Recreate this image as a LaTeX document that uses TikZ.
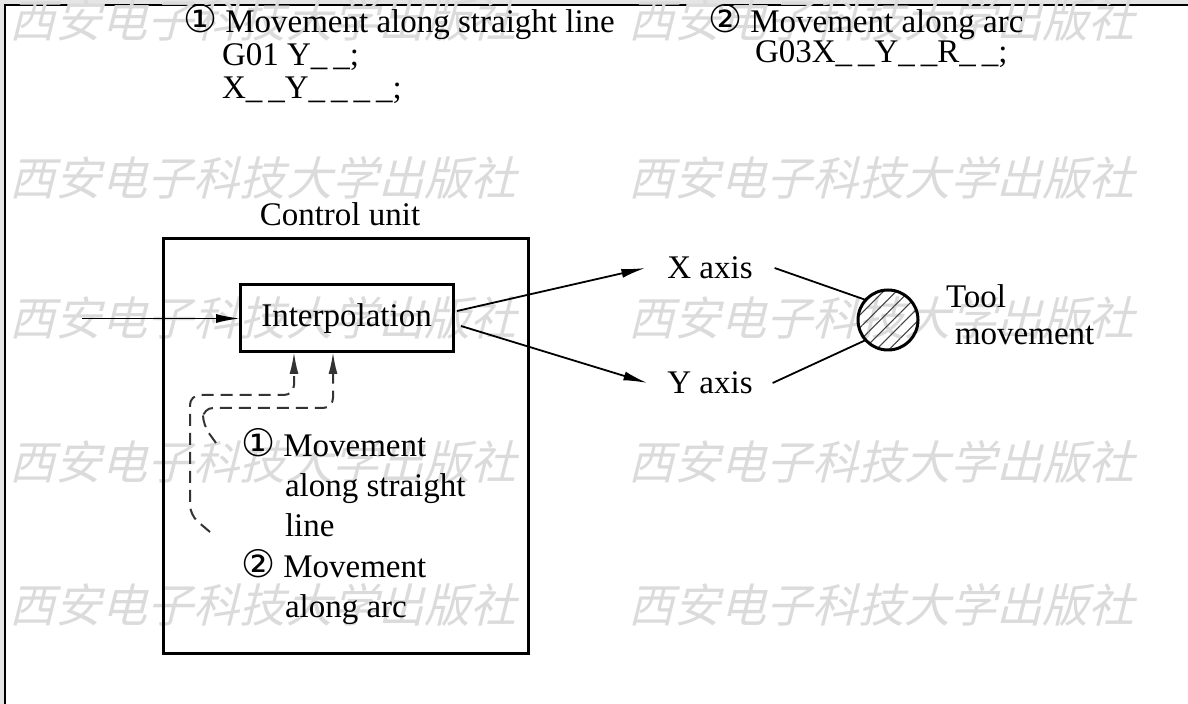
\documentclass[tikz,border=0pt]{standalone}
\usepackage{fontspec}
\setmainfont{Liberation Serif}
\newfontfamily\symfont{DejaVu Sans}
\newfontfamily\wmfont[FakeSlant=0.25]{Noto Sans CJK SC}
\usetikzlibrary{arrows.meta,patterns.meta}
\newcommand{\cA}{{\symfont\fontsize{19}{19}\selectfont ①}}
\newcommand{\cB}{{\symfont\fontsize{19}{19}\selectfont ②}}
\newcommand{\blk}{\_\kern3pt\_}
\begin{document}
\begin{tikzpicture}[x=0.5pt,y=-0.5pt,
  every node/.style={inner sep=0pt, outer sep=0pt},
  txt/.style={font=\fontsize{16.5}{20}\selectfont},
  wm/.style={font=\wmfont\fontsize{23}{23}\selectfont, text=black!14, anchor=west},
  boxline/.style={draw, line width=1.5pt},
  arr/.style={line width=0.9pt, -{Latex[length=12pt,width=4.5pt]}},
  lin/.style={line width=0.9pt},
  dline/.style={line width=1pt, draw=black!80, dash pattern=on 6pt off 3.5pt, rounded corners=5pt, -{Latex[length=11pt,width=4.5pt]}}
]
\useasboundingbox (0,0) rectangle (1188,704);
\fill[white] (0,0) rectangle (1188,704);
\fill[black!10] (0,0) rectangle (1188,4);
\fill[black!10] (0,0) rectangle (4,704);
\draw[line width=1.1pt] (5,704) -- (5,5) -- (1188,5);

% watermarks
\foreach \yy in {20,178,318,462,605} {
  \node[wm] (wmL\yy) at (10,\yy) {西安电子科技大学出版社};
  \node[wm] (wmR\yy) at (628,\yy) {西安电子科技大学出版社};
}

% top texts
\node[txt,anchor=base west] (t1) at (183,33) {\cA\ Movement along straight line};
\node[txt,anchor=base west] (t2) at (222,66) {G01 Y\blk;};
\node[txt,anchor=base west] (t3) at (222,99) {X\blk Y\blk\kern3pt\blk;};
\node[txt,anchor=base west] (t4) at (708,33) {\cB\ Movement along arc};
\node[txt,anchor=base west] (t5) at (755,63) {G03X\blk Y\blk R\blk;};

% control unit
\node[txt,anchor=base] (cul) at (340,226) {Control unit};
\node[boxline, minimum width=182.5pt, minimum height=207.5pt] (cu) at (345.5,446.5) {};
\node[boxline, txt, minimum width=106.5pt, minimum height=33.5pt] (ip) at (346.5,318.5) {Interpolation};

% inner texts
\node[txt,anchor=base west] (i1) at (241,457) {\cA\ Movement};
\node[txt,anchor=base west] (i2) at (285,497) {along straight};
\node[txt,anchor=base west] (i3) at (285,537) {line};
\node[txt,anchor=base west] (i4) at (241,578) {\cB\ Movement};
\node[txt,anchor=base west] (i5) at (285,618) {along arc};

% input arrow
\coordinate (in0) at (82,318.5);
\draw[arr] (in0) -- (ip.west);

% dashed feedback
\coordinate (d1) at (210,532);
\draw[dline] (d1) -- (190,515) -- (190,395) -- (294,395) -- (294,0 |- ip.south);
\coordinate (d2) at (216,443);
\draw[dline] (d2) -- (203,425) -- (203,408) -- (333,408) -- (333,0 |- ip.south);

% axes
\node[txt, inner xsep=11pt] (xa) at (710,268) {X axis};
\node[txt, inner xsep=10pt] (ya) at (710,383) {Y axis};
\coordinate (o1) at (457,311);
\coordinate (o2) at (461,326);
\draw[arr] (o1) -- (xa.west);
\draw[arr] (o2) -- (ya.west);

% tool
\node[circle, draw, line width=1.5pt, minimum size=30pt,
      pattern={Lines[angle=45,distance=4.5pt,line width=0.5pt]}, pattern color=black!75] (tool) at (888,320) {};
\draw[lin] (xa.east) -- (tool.138);
\draw[lin] (ya.east) -- (tool.222);
\node[txt,anchor=base west] (tl1) at (946,308) {Tool};
\node[txt,anchor=base west] (tl2) at (955,345) {movement};
\end{tikzpicture}
\end{document}
